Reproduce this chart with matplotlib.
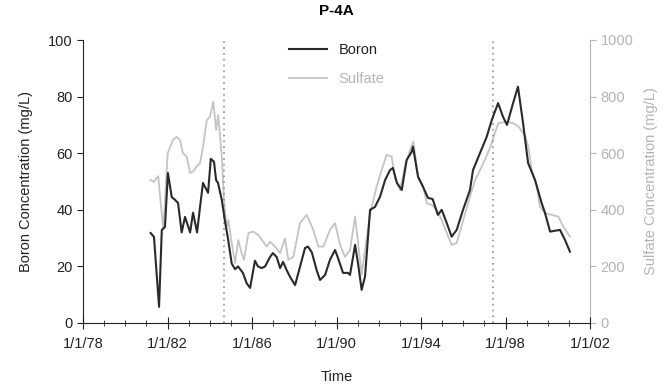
import matplotlib
matplotlib.use("Agg")
import matplotlib.pyplot as plt
from matplotlib.ticker import MultipleLocator

# Decimal years (19xx) and values
boron_t = [81.20, 81.36, 81.60, 81.73, 81.88, 82.02, 82.20, 82.36, 82.50, 82.67,
           82.83, 83.07, 83.21, 83.40, 83.54, 83.68, 83.92, 84.05, 84.20, 84.30,
           84.39, 84.57, 84.72, 84.86, 85.04, 85.20, 85.34, 85.57, 85.75, 85.91,
           86.14, 86.28, 86.46, 86.62, 86.85, 86.99, 87.17, 87.33, 87.47, 87.64,
           87.80, 88.04, 88.27, 88.51, 88.65, 88.83, 89.06, 89.22, 89.46, 89.69,
           89.93, 90.07, 90.31, 90.54, 90.64, 90.88, 91.02, 91.19, 91.35, 91.59,
           91.82, 92.06, 92.30, 92.53, 92.67, 92.86, 93.09, 93.32, 93.56, 93.62,
           93.86, 94.09, 94.33, 94.55, 94.80, 94.98, 95.22, 95.45, 95.69, 95.99,
           96.32, 96.46, 96.79, 97.11, 97.35, 97.65, 97.88, 98.07, 98.36, 98.59,
           98.83, 99.07, 99.40, 99.71, 99.87, 100.11, 100.58, 100.82, 101.05]
boron_v = [31.8, 30.4, 5.7, 32.9, 33.9, 53.0, 44.5, 43.5, 42.4, 32.0,
           37.5, 32.0, 39.0, 32.0, 41.0, 49.5, 46.0, 58.0, 57.0, 50.5,
           49.5, 43.5, 36.0, 30.0, 21.0, 19.0, 20.0, 17.7, 14.0, 12.4,
           22.0, 20.0, 19.4, 20.0, 23.3, 24.7, 23.3, 19.4, 21.6, 18.7,
           16.3, 13.4, 19.8, 26.5, 27.0, 25.0, 18.7, 15.2, 17.0, 22.3,
           25.8, 23.0, 17.7, 17.7, 17.0, 27.6, 21.0, 11.7, 16.4, 40.0,
           41.0, 44.6, 50.5, 54.0, 54.8, 49.5, 47.0, 57.6, 60.5, 62.3,
           51.7, 48.2, 44.2, 43.8, 38.2, 40.0, 35.3, 30.5, 32.9, 40.0,
           47.0, 54.0, 60.0, 65.8, 71.7, 77.7, 72.9, 70.0, 77.7, 83.5,
           70.7, 56.5, 50.5, 42.4, 38.9, 32.3, 32.9, 29.3, 25.2]

sulfate_t = [81.20, 81.36, 81.56, 81.80, 82.01, 82.26, 82.44, 82.59, 82.73, 82.91,
             83.07, 83.21, 83.38, 83.54, 83.68, 83.86, 84.01, 84.17, 84.30, 84.40,
             84.57, 84.67, 84.80, 84.88, 85.03, 85.20, 85.35, 85.51, 85.62, 85.83,
             86.06, 86.30, 86.53, 86.70, 86.85, 87.09, 87.33, 87.56, 87.72, 87.96,
             88.27, 88.59, 88.90, 89.14, 89.38, 89.69, 89.93, 90.17, 90.40, 90.64,
             90.88, 91.19, 91.59, 91.90, 92.14, 92.37, 92.61, 92.77, 93.01, 93.24,
             93.48, 93.64, 93.87, 94.11, 94.27, 94.51, 94.74, 94.98, 95.22, 95.45,
             95.69, 96.00, 96.32, 96.56, 96.95, 97.27, 97.66, 98.06, 98.37, 98.61,
             98.92, 99.08, 99.24, 99.48, 99.63, 99.87, 100.19, 100.50, 100.74, 101.05]
sulfate_v = [505, 499, 519, 329, 600, 647, 658, 647, 600, 588,
             530, 535, 553, 565, 623, 717, 729, 782, 682, 735,
             588, 440, 340, 364, 287, 212, 293, 247, 223, 318,
             323, 311, 287, 270, 287, 270, 247, 299, 223, 234,
             353, 382, 329, 270, 270, 329, 353, 276, 234, 258,
             376, 170, 388, 482, 541, 594, 588, 512, 470, 553,
             611, 641, 512, 482, 424, 417, 400, 364, 318, 276,
             283, 364, 446, 505, 564, 620, 706, 711, 706, 694,
             664, 623, 541, 482, 411, 388, 382, 376, 340, 305]

event_t = [84.68, 97.40]
tick_years = [78, 82, 86, 90, 94, 98, 102]
tick_labels = ["1/1/78", "1/1/82", "1/1/86", "1/1/90", "1/1/94", "1/1/98", "1/1/02"]

plt.rcParams['font.family'] = ['Liberation Sans', 'DejaVu Sans']
plt.rcParams['font.size'] = 10.5

fig = plt.figure(figsize=(6.69, 3.85), dpi=100)
ax = fig.add_axes([83/669, 62/385, 507/669, 283/385])
ax2 = ax.twinx()

gray_r = '#b4b4b4'
for t in event_t:
    ax.plot([t, t], [0, 100], linestyle=(0, (1, 2.5)), color='#909090', lw=1.2, zorder=1)

l2, = ax2.plot(sulfate_t, sulfate_v, color='#c4c4c4', lw=1.3, label='Sulfate')
l1, = ax.plot(boron_t, boron_v, color='#2a2a2a', lw=1.5, label='Boron', zorder=3)
ax.set_zorder(ax2.get_zorder() + 1)
ax.patch.set_visible(False)

ax.set_xlim(78, 102)
ax.set_ylim(0, 100)
ax2.set_ylim(0, 1000)
ax.set_xticks(tick_years)
ax.set_xticklabels(tick_labels)
ax.xaxis.set_minor_locator(MultipleLocator(1))
ax.set_yticks([0, 20, 40, 60, 80, 100])
ax2.set_yticks([0, 200, 400, 600, 800, 1000])

for a in (ax, ax2):
    a.spines['top'].set_visible(False)
ax.spines['right'].set_visible(False)
ax2.spines['left'].set_visible(False)
ax2.spines['bottom'].set_visible(False)
ax2.spines['right'].set_color(gray_r)
ax.spines['left'].set_color('#222222')
ax.spines['bottom'].set_color('#222222')

ax.tick_params(axis='y', direction='out', length=4, colors='#222222', labelcolor='#222222')
ax.tick_params(axis='x', which='major', direction='inout', length=8, colors='#222222', pad=6)
ax.tick_params(axis='x', which='minor', direction='inout', length=4, colors='#222222')
ax2.tick_params(axis='y', direction='out', length=4, colors=gray_r, labelcolor=gray_r)

ax.set_ylabel('Boron Concentration (mg/L)', color='#222222', labelpad=11)
ax2.set_ylabel('Sulfate Concentration (mg/L)', color=gray_r, labelpad=8)
ax.set_xlabel('Time', color='#222222', labelpad=14)
ax.set_title('P-4A', fontweight='bold', fontsize=11, pad=18)

leg = ax.legend(handles=[l1, l2], loc='upper center', bbox_to_anchor=(0.5, 1.035),
                frameon=False, handlelength=2.6, labelspacing=1.0, fontsize=10.5)
for txt, c in zip(leg.get_texts(), ['#222222', gray_r]):
    txt.set_color(c)

fig.savefig('out.png', dpi=100)
